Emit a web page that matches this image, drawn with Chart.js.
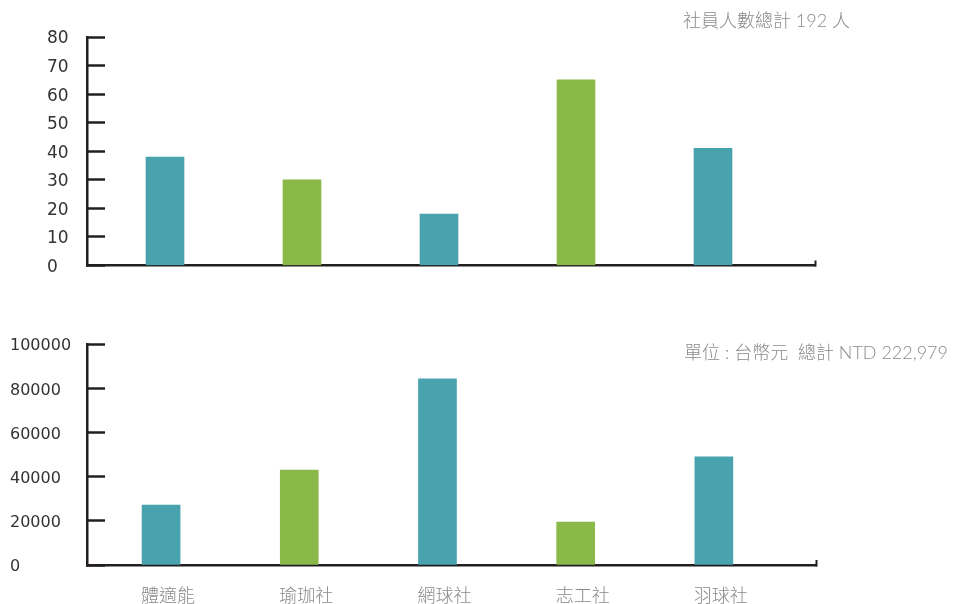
<!DOCTYPE html>
<html>
<head>
<meta charset="utf-8">
<script src="https://cdn.jsdelivr.net/npm/chart.js@4/dist/chart.umd.min.js"></script>
<style>
  body { margin: 0; background: #fff; width: 953px; height: 604px; position: relative; overflow: hidden; }
  .box { position: absolute; left: 0; width: 953px; }
  .note { position: absolute; font-family: Lato, "Noto Sans CJK TC", sans-serif; font-weight: 300;
          font-size: 18px; color: #8a8a8a; white-space: pre; line-height: 20px; }
</style>
</head>
<body>
<div class="box" style="top:0;height:300px"><canvas id="members" width="953" height="300"></canvas></div>
<div class="box" style="top:300px;height:304px"><canvas id="money" width="953" height="304"></canvas></div>
<div class="note" style="right:103px;top:10px">社員人數總計 192 人</div>
<div class="note" style="right:5px;top:342px">單位 : 台幣元  總計 NTD 222,979</div>
<script>
const clubs = ['體適能', '瑜珈社', '網球社', '志工社', '羽球社'];
const members = [38, 30, 18, 65, 41];
const money = [27150, 43050, 84300, 19500, 48979];
const memberTicks = [0, 80, 10];     // min, max, step
const moneyTicks = [0, 100000, 20000];

const teal = '#48a3af';
const green = '#8ab94a';
const barColors = [teal, green, teal, green, teal];
const axisColor = '#231f20';

function points(values) {
    return values.map((v, i) => ({ x: i, y: v }));
}

function makeChart(id, values, ticks, opts) {
    return new Chart(document.getElementById(id), {
        type: 'bar',
        data: {
            datasets: [{
                data: points(values),
                backgroundColor: barColors,
                barThickness: 38
            }]
        },
        options: {
            responsive: false,
            animation: false,
            layout: { padding: opts.padding },
            plugins: { legend: { display: false }, tooltip: { enabled: false } },
            scales: {
                x: {
                    type: 'linear',
                    offset: false,
                    min: opts.xMin,
                    max: opts.xMax,
                    // one tick per club plus the two ends of the axis
                    afterBuildTicks: (s) => {
                        s.ticks = [s.min, ...clubs.map((c, i) => i), s.max].map(v => ({ value: v }));
                    },
                    border: { color: axisColor, width: 2.5 },
                    grid: {
                        offset: false,
                        drawOnChartArea: false,
                        tickLength: -5,
                        tickWidth: 2,
                        tickColor: (c) => c.index === c.scale.ticks.length - 1 ? axisColor : 'rgba(0,0,0,0)'
                    },
                    ticks: {
                        display: opts.showLabels,
                        autoSkip: false,
                        maxRotation: 0,
                        padding: 24,
                        labelOffset: 7,
                        color: '#8a8a8a',
                        font: { family: '"Noto Sans CJK TC"', size: 18, weight: 300 },
                        callback: (v) => Number.isInteger(v) ? clubs[v] : ''
                    },
                    afterFit: (s) => { s.height = opts.xHeight; }
                },
                y: {
                    min: ticks[0],
                    max: ticks[1],
                    border: { color: axisColor, width: 2.5 },
                    grid: {
                        drawOnChartArea: false,
                        tickLength: -18,
                        tickWidth: 2.5,
                        tickColor: axisColor
                    },
                    ticks: {
                        stepSize: ticks[2],
                        crossAlign: 'far',
                        labelOffset: 2,
                        color: '#333',
                        font: { family: '"DejaVu Sans"', size: opts.yFont },
                        callback: (v) => String(v)
                    },
                    afterFit: (s) => { s.width = opts.yWidth; }
                }
            }
        }
    });
}

makeChart('members', members, memberTicks, {
    padding: { top: 37, left: 47, right: 138, bottom: 24.5 },
    xMin: -0.5693, xMax: 4.7445, xHeight: 10, showLabels: false,
    yWidth: 40, yFont: 17
});

makeChart('money', money, moneyTicks, {
    padding: { top: 44.3, left: 10, right: 137, bottom: 0 },
    xMin: -0.536, xMax: 4.739, xHeight: 39, showLabels: true,
    yWidth: 77, yFont: 16
});
</script>
</body>
</html>
